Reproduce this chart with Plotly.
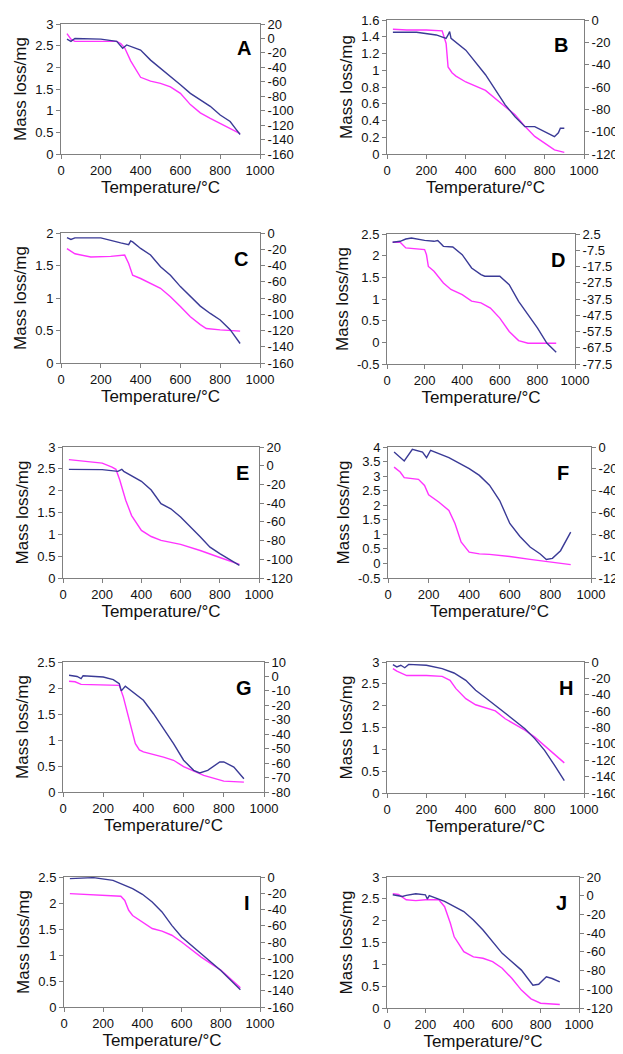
import plotly.graph_objects as go

W, H = 623, 1054
OFF = 8  # page body margin offset

panel_labels = ["A", "B", "C", "D", "E", "F", "G", "H", "I", "J"]

# ---- data: TG (mass loss, left axis, magenta) and DTA (right axis, navy) ----
A_tg_T = [30, 50, 70, 100, 200, 280, 300, 320, 350, 400, 450, 500, 550, 600, 650, 700, 750, 800, 850, 900]
A_tg = [2.78, 2.65, 2.6, 2.6, 2.6, 2.6, 2.55, 2.45, 2.15, 1.77, 1.68, 1.63, 1.55, 1.4, 1.14, 0.95, 0.82, 0.70, 0.59, 0.47]
A_dta_T = [30, 50, 70, 200, 280, 300, 310, 330, 400, 450, 500, 550, 600, 650, 700, 750, 800, 850, 880, 900]
A_dta = [-1, -4, 0, -1, -4, -11, -13.5, -9, -16, -30, -41, -53, -64, -76, -85, -94, -106, -115, -126, -133]

B_tg_T = [30, 100, 200, 280, 300, 310, 330, 350, 400, 500, 600, 650, 700, 750, 800, 850, 900]
B_tg = [1.49, 1.48, 1.48, 1.47, 1.32, 1.04, 0.97, 0.93, 0.86, 0.76, 0.565, 0.47, 0.33, 0.21, 0.13, 0.05, 0.02]
B_dta_T = [30, 150, 250, 300, 310, 318, 325, 400, 500, 600, 650, 700, 750, 800, 850, 870, 880, 900]
B_dta = [-11, -11, -13.4, -16.4, -13.4, -10.4, -16.4, -27, -49, -76, -86.6, -95.5, -95.5, -100, -104.5, -101, -97, -97]

C_tg_T = [30, 50, 70, 150, 250, 320, 340, 360, 400, 500, 550, 600, 650, 700, 730, 800, 900]
C_tg = [1.76, 1.72, 1.68, 1.63, 1.64, 1.66, 1.53, 1.35, 1.30, 1.15, 1.02, 0.87, 0.71, 0.59, 0.53, 0.51, 0.49]
C_dta_T = [30, 50, 70, 200, 300, 340, 350, 360, 400, 450, 500, 550, 600, 650, 700, 750, 800, 850, 900]
C_dta = [-5.7, -8, -6, -6, -12.2, -14.3, -9.8, -11, -19, -27, -41.6, -52, -66, -78, -90, -99, -107, -119, -136]

D_tg_T = [30, 70, 100, 200, 210, 220, 250, 300, 340, 400, 450, 500, 550, 600, 650, 700, 750, 900]
D_tg = [2.31, 2.31, 2.18, 2.14, 2.02, 1.75, 1.64, 1.37, 1.22, 1.10, 0.95, 0.91, 0.79, 0.56, 0.25, 0.04, -0.02, -0.02]
D_dta_T = [30, 70, 100, 130, 200, 250, 270, 300, 350, 400, 450, 500, 520, 600, 650, 700, 750, 800, 850, 900]
D_dta = [-2.6, -2, -0.6, 0, -1.4, -2, -1.5, -5.1, -5.5, -10.2, -18.4, -22.5, -23.5, -23.5, -28.7, -38.9, -47.1, -55.3, -64.6, -70.3]

E_tg_T = [30, 100, 200, 250, 270, 290, 320, 350, 400, 450, 500, 600, 700, 800, 900]
E_tg = [2.71, 2.67, 2.63, 2.54, 2.49, 2.24, 1.78, 1.43, 1.09, 0.95, 0.86, 0.77, 0.63, 0.47, 0.31]
E_dta_T = [30, 200, 280, 300, 310, 400, 450, 500, 550, 600, 700, 750, 800, 900]
E_dta = [-3.9, -4.2, -6, -3.9, -6, -16.7, -26, -40.6, -46, -54.8, -76, -87, -94, -106.5]

F_tg_T = [30, 60, 80, 150, 180, 200, 250, 300, 330, 360, 400, 450, 500, 600, 700, 800, 900]
F_tg = [3.31, 3.14, 2.95, 2.89, 2.68, 2.36, 2.11, 1.82, 1.37, 0.74, 0.39, 0.33, 0.31, 0.24, 0.14, 0.05, -0.04]
F_dta_T = [30, 80, 120, 170, 190, 210, 300, 400, 450, 500, 550, 600, 650, 700, 750, 780, 810, 850, 900]
F_dta = [-4.6, -12.8, -2.1, -4.6, -9.8, -3, -9.8, -19.8, -26, -35, -49, -70, -82, -91.6, -98, -103, -102, -95, -78]

G_tg_T = [30, 60, 90, 280, 300, 330, 360, 380, 400, 500, 550, 600, 700, 800, 900]
G_tg = [2.13, 2.12, 2.07, 2.05, 1.83, 1.38, 0.93, 0.81, 0.77, 0.67, 0.61, 0.49, 0.32, 0.21, 0.19]
G_dta_T = [30, 70, 90, 100, 200, 250, 280, 290, 310, 400, 450, 500, 550, 600, 650, 680, 720, 780, 800, 850, 900]
G_dta = [0.8, 0, -1.5, 0.5, -0.4, -2.2, -5, -10, -6.8, -16.5, -25.8, -36, -46.5, -58, -65, -66.8, -65, -59.2, -59.2, -62.7, -70.8]

H_tg_T = [30, 50, 100, 200, 280, 320, 350, 400, 450, 500, 550, 600, 700, 750, 800, 850, 900]
H_tg = [2.85, 2.79, 2.69, 2.69, 2.67, 2.58, 2.39, 2.16, 2.02, 1.95, 1.88, 1.70, 1.44, 1.28, 1.09, 0.90, 0.69]
H_dta_T = [30, 50, 70, 90, 110, 200, 280, 340, 400, 450, 500, 600, 700, 750, 800, 850, 900]
H_dta = [-3.3, -6, -4, -7, -2.9, -4, -8, -13.4, -22.4, -34.6, -43.6, -63, -81.4, -93.6, -108, -126, -145]

I_tg_T = [30, 100, 200, 290, 310, 330, 350, 400, 450, 500, 550, 600, 700, 800, 900]
I_tg = [2.18, 2.17, 2.15, 2.13, 2.05, 1.86, 1.76, 1.63, 1.51, 1.46, 1.38, 1.25, 0.96, 0.71, 0.37]
I_dta_T = [30, 150, 250, 300, 350, 400, 450, 500, 550, 600, 700, 800, 900]
I_dta = [-2, -0.8, -4.1, -9, -14.4, -21.3, -30.8, -43, -59.5, -73.8, -94.4, -115, -138.7]

J_tg_T = [30, 60, 100, 150, 200, 270, 300, 330, 350, 400, 450, 500, 550, 600, 650, 700, 750, 800, 900]
J_tg = [2.62, 2.6, 2.48, 2.46, 2.48, 2.48, 2.32, 1.94, 1.63, 1.29, 1.17, 1.14, 1.06, 0.91, 0.68, 0.41, 0.21, 0.11, 0.08]
J_dta_T = [30, 80, 100, 150, 200, 210, 220, 300, 400, 450, 500, 550, 600, 700, 760, 790, 830, 860, 900]
J_dta = [1, -0.8, 0.3, 2.1, 1, -3.6, 0, -6.1, -16.9, -26, -36.6, -49, -61.6, -79.5, -95.6, -94.6, -86.7, -88.5, -92]

# axis ranges (min, max, step)
left_axes = [(0, 3, 0.5), (0, 1.6, 0.2), (0, 2, 0.5), (-0.5, 2.5, 0.5), (0, 3, 0.5),
             (-0.5, 4, 0.5), (0, 2.5, 0.5), (0, 3, 0.5), (0, 2.5, 0.5), (0, 3, 0.5)]
right_axes = [(-160, 20, 20), (-120, 0, 20), (-160, 0, 20), (-77.5, 2.5, 10), (-120, 20, 20),
              (-120, 0, 20), (-80, 10, 10), (-160, 0, 20), (-160, 0, 20), (-120, 20, 20)]
x_ticks = [0, 200, 400, 600, 800, 1000]

tg_data = [(A_tg_T, A_tg), (B_tg_T, B_tg), (C_tg_T, C_tg), (D_tg_T, D_tg), (E_tg_T, E_tg),
           (F_tg_T, F_tg), (G_tg_T, G_tg), (H_tg_T, H_tg), (I_tg_T, I_tg), (J_tg_T, J_tg)]
dta_data = [(A_dta_T, A_dta), (B_dta_T, B_dta), (C_dta_T, C_dta), (D_dta_T, D_dta), (E_dta_T, E_dta),
            (F_dta_T, F_dta), (G_dta_T, G_dta), (H_dta_T, H_dta), (I_dta_T, I_dta), (J_dta_T, J_dta)]

# plot-area boxes in page pixels (left, right, top, bottom)
boxes = [(61, 260, 24, 154), (387, 584, 20, 154),
         (61, 260, 233, 363), (387, 575, 234, 364),
         (63, 259, 447, 578), (388, 591, 447, 578),
         (63, 264, 662, 792), (387, 584, 662, 793),
         (64, 260, 877, 1007), (387, 579, 877, 1008)]
letter_pos = [(0.965, 0.915), (0.93, 0.91), (0.95, 0.9), (0.957, 0.9), (0.96, 0.9),
              (0.9, 0.9), (0.95, 0.9), (0.955, 0.9), (0.96, 0.9), (0.95, 0.9)]

MAGENTA = "#ff33ff"
NAVY = "#3a3a96"
AXC = "#808080"
FONT = "Arial, Liberation Sans, sans-serif"


def fmt(v):
    v = round(v, 4)
    return "%g" % v


def make_ticks(lo, hi, step):
    n = int(round((hi - lo) / step))
    vals = [round(lo + i * step, 4) for i in range(n + 1)]
    return vals, [fmt(v) for v in vals]


fig = go.Figure()
layout = dict(width=W, height=H, margin=dict(l=0, r=0, t=0, b=0),
              paper_bgcolor="white", plot_bgcolor="white", showlegend=False,
              font=dict(family=FONT, color="#111", size=13))
annotations = []

for i in range(10):
    xi = i + 1
    yl = 2 * i + 1
    yr = 2 * i + 2
    xname = "x" if xi == 1 else "x%d" % xi
    ylname = "y" if yl == 1 else "y%d" % yl
    yrname = "y%d" % yr
    L, R, T, B = boxes[i]
    xdom = [(L - OFF) / W, (R - OFF) / W]
    ydom = [1 - (B - OFF) / H, 1 - (T - OFF) / H]

    fig.add_trace(go.Scatter(x=dta_data[i][0], y=dta_data[i][1], mode="lines",
                             line=dict(color=NAVY, width=1.4), xaxis=xname, yaxis=yrname))
    fig.add_trace(go.Scatter(x=tg_data[i][0], y=tg_data[i][1], mode="lines",
                             line=dict(color=MAGENTA, width=1.4), xaxis=xname, yaxis=ylname))

    common = dict(showgrid=False, zeroline=False, showline=True, linecolor=AXC, linewidth=1,
                  ticks="outside", ticklen=4, tickcolor=AXC, tickfont=dict(size=13, family=FONT, color="#111"),
                  automargin=False)
    layout["xaxis" if xi == 1 else "xaxis%d" % xi] = dict(
        domain=xdom, anchor=ylname, range=[0, 1000], tickvals=x_ticks,
        ticktext=[fmt(v) for v in x_ticks], mirror=True,
        title=dict(text="Temperature/°C", font=dict(size=17, family=FONT, color="#111"), standoff=4),
        **common)
    lv, lt = make_ticks(*left_axes[i])
    layout["yaxis" if yl == 1 else "yaxis%d" % yl] = dict(
        domain=ydom, anchor=xname, range=[left_axes[i][0], left_axes[i][1]],
        tickvals=lv, ticktext=lt, side="left",
        title=dict(text="Mass loss/mg", font=dict(size=17, family=FONT, color="#111"), standoff=4),
        **common)
    rv, rt = make_ticks(*right_axes[i])
    layout["yaxis%d" % yr] = dict(
        domain=ydom, anchor=xname, overlaying=ylname, side="right",
        range=[right_axes[i][0], right_axes[i][1]], tickvals=rv, ticktext=rt,
        **common)
    annotations.append(dict(text="<b>%s</b>" % panel_labels[i], xref="%s domain" % xname,
                            yref="%s domain" % ylname, x=letter_pos[i][0], y=letter_pos[i][1],
                            xanchor="right", yanchor="top", showarrow=False,
                            font=dict(size=20, family=FONT, color="#000")))

layout["annotations"] = annotations
fig.update_layout(**layout)
fig.write_html("out.html")
